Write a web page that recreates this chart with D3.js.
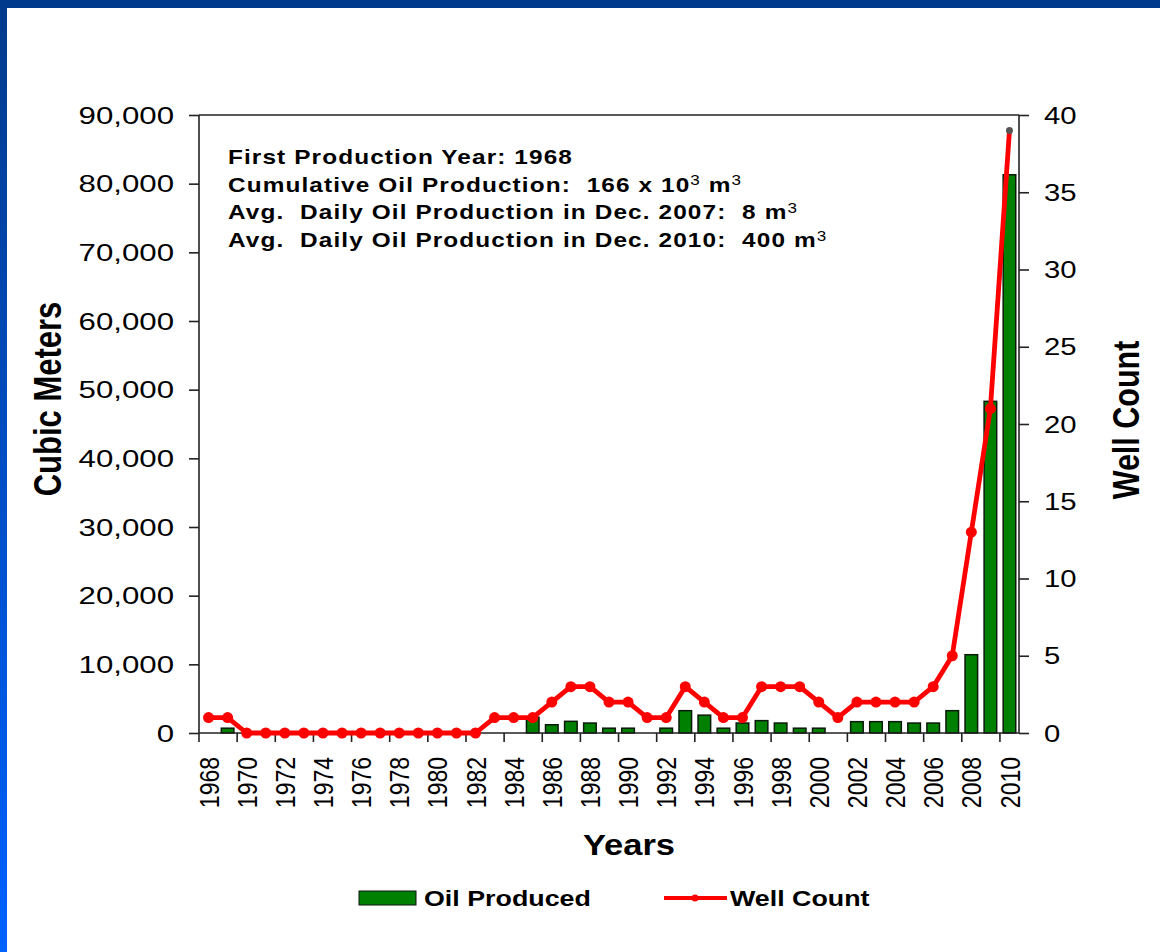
<!DOCTYPE html>
<html>
<head>
<meta charset="utf-8">
<script src="https://cdn.jsdelivr.net/npm/d3@7"></script>
<style>
  html, body { margin: 0; padding: 0; background: #fff; }
  svg { display: block; }
  text { font-family: "Liberation Sans", Arial, sans-serif; fill: #000; }
</style>
</head>
<body>
<svg id="chart" width="1160" height="952"></svg>
<script>
// ---------- data ----------
const years = d3.range(1968, 2011).map(String);
const oilProduced = [
  0, 700, 0, 0, 0, 0, 0, 0, 0, 0,          // 1968-1977
  0, 0, 0, 0, 0, 0, 0, 2300, 1200, 1700,   // 1978-1987
  1450, 700, 700, 0, 700, 3250, 2600, 700, 1450, 1800, // 1988-1997
  1450, 700, 700, 0, 1650, 1650, 1650, 1450, 1450, 3250, // 1998-2007
  11400, 48300, 81300                      // 2008-2010
];
const wellCount = [
  1, 1, 0, 0, 0, 0, 0, 0, 0, 0,            // 1968-1977
  0, 0, 0, 0, 0, 1, 1, 1, 2, 3,            // 1978-1987
  3, 2, 2, 1, 1, 3, 2, 1, 1, 3,            // 1988-1997
  3, 3, 2, 1, 2, 2, 2, 2, 3, 5,            // 1998-2007
  13, 21, 39                               // 2008-2010
];
const leftTicks = [0, 10000, 20000, 30000, 40000, 50000, 60000, 70000, 80000, 90000];
const rightTicks = [0, 5, 10, 15, 20, 25, 30, 35, 40];
const xTickYears = years.filter((d, i) => i % 2 === 0);
const infoLines = [
  [["First Production Year: 1968", false]],
  [["Cumulative Oil Production:  166 x 10", false], ["3", true], [" m", false], ["3", true]],
  [["Avg.  Daily Oil Production in Dec. 2007:  8 m", false], ["3", true]],
  [["Avg.  Daily Oil Production in Dec. 2010:  400 m", false], ["3", true]]
];
const legendItems = ["Oil Produced", "Well Count"];

// ---------- layout ----------
const svg = d3.select("#chart");
const SX = 1.22; // horizontal stretch of glyphs in the reference
const plot = { left: 199, right: 1019, top: 115, bottom: 733 };

// frame
const defs = svg.append("defs");
const grad = defs.append("linearGradient").attr("id", "edge").attr("x1", 0).attr("y1", 0).attr("x2", 0).attr("y2", 1);
grad.append("stop").attr("offset", "0%").attr("stop-color", "#003a8c");
grad.append("stop").attr("offset", "100%").attr("stop-color", "#0062ff");
svg.append("rect").attr("x", 0).attr("y", 0).attr("width", 1160).attr("height", 952).attr("fill", "#fff");
svg.append("rect").attr("x", 0).attr("y", 0).attr("width", 7).attr("height", 952).attr("fill", "url(#edge)");
svg.append("rect").attr("x", 0).attr("y", 0).attr("width", 1160).attr("height", 8).attr("fill", "#003a8c");

// scales
const x = d3.scaleBand().domain(years).range([plot.left, plot.right]).paddingInner(0.34).paddingOuter(0.17);
const xc = d => x(d) + x.bandwidth() / 2;
const yL = d3.scaleLinear().domain([0, 90000]).range([plot.bottom, plot.top]);
const yR = d3.scaleLinear().domain([0, 40]).range([plot.bottom, plot.top]);

// bars
svg.append("g").selectAll("rect").data(years).join("rect")
  .attr("x", d => x(d))
  .attr("width", x.bandwidth())
  .attr("y", (d, i) => yL(oilProduced[i]))
  .attr("height", (d, i) => plot.bottom - yL(oilProduced[i]))
  .attr("fill", "#008000")
  .attr("stroke", "#0a1a0a")
  .attr("stroke-width", 1.5)
  .attr("display", (d, i) => oilProduced[i] > 0 ? null : "none");

// axes lines (box)
const axisG = svg.append("g").attr("stroke", "#222").attr("stroke-width", 1.6).attr("fill", "none");
axisG.append("line").attr("x1", plot.left).attr("x2", plot.right).attr("y1", plot.top).attr("y2", plot.top);
axisG.append("line").attr("x1", plot.left).attr("x2", plot.right).attr("y1", plot.bottom).attr("y2", plot.bottom);
axisG.append("line").attr("x1", plot.left).attr("x2", plot.left).attr("y1", plot.top).attr("y2", plot.bottom);
axisG.append("line").attr("x1", plot.right).attr("x2", plot.right).attr("y1", plot.top).attr("y2", plot.bottom);

// left axis
const gl = svg.append("g").attr("transform", `translate(${plot.left},0)`)
  .call(d3.axisLeft(yL).tickValues(leftTicks).tickSize(10).tickFormat(d3.format(",")));
gl.select(".domain").remove();
gl.selectAll(".tick line").attr("stroke", "#222").attr("stroke-width", 1.6);
gl.selectAll(".tick text")
  .attr("x", null).attr("dy", null)
  .attr("font-size", 24)
  .attr("font-family", "Liberation Sans, Arial, sans-serif")
  .attr("text-anchor", "end")
  .attr("transform", `translate(-25,8) scale(1.3,1)`);

// right axis
const gr = svg.append("g").attr("transform", `translate(${plot.right},0)`)
  .call(d3.axisRight(yR).tickValues(rightTicks).tickSize(10));
gr.select(".domain").remove();
gr.selectAll(".tick line").attr("stroke", "#222").attr("stroke-width", 1.6);
gr.selectAll(".tick text")
  .attr("x", null).attr("dy", null)
  .attr("font-size", 24)
  .attr("font-family", "Liberation Sans, Arial, sans-serif")
  .attr("text-anchor", "start")
  .attr("transform", `translate(25,8) scale(${SX},1)`);

// bottom axis ticks at left edge of even-year bands
const edge = d => (d === years[0]) ? plot.left : x(d) - x.step() * x.paddingInner() / 2;
const gb = svg.append("g");
gb.selectAll("line").data(xTickYears).join("line")
  .attr("x1", edge).attr("x2", edge)
  .attr("y1", plot.bottom).attr("y2", plot.bottom + 9)
  .attr("stroke", "#222").attr("stroke-width", 1.6);
gb.selectAll("text").data(xTickYears).join("text")
  .attr("transform", d => `translate(${xc(d)},757) scale(${SX},1) rotate(-90)`)
  .attr("text-anchor", "end")
  .attr("dy", "0.36em")
  .attr("font-size", 23)
  .text(d => d);

// well count line
const line = d3.line().x((d, i) => xc(years[i])).y(d => yR(d));
svg.append("path").datum(wellCount)
  .attr("d", line)
  .attr("fill", "none")
  .attr("stroke", "#ff0000")
  .attr("stroke-width", 4.8)
  .attr("stroke-linejoin", "round");
svg.append("g").selectAll("circle").data(wellCount).join("circle")
  .attr("cx", (d, i) => xc(years[i]))
  .attr("cy", d => yR(d))
  .attr("r", (d, i) => i === wellCount.length - 1 ? 3.5 : 5.5)
  .attr("fill", (d, i) => i === wellCount.length - 1 ? "#555" : "#ff0000");

// info text
const info = svg.append("g");
infoLines.forEach((parts, li) => {
  const t = info.append("text")
    .attr("transform", `translate(228,${164 + li * 27.7}) scale(${SX},1)`)
    .attr("font-size", 20)
    .attr("font-weight", "bold")
    .attr("letter-spacing", 0.9)
    .style("white-space", "pre");
  parts.forEach(([s, sup]) => {
    const ts = t.append("tspan").text(s);
    if (sup) ts.attr("font-size", 14).attr("font-weight", "normal").attr("baseline-shift", "45%");
  });
});

// axis titles
svg.append("text")
  .attr("transform", `translate(61,399) scale(1.25,1) rotate(-90)`)
  .attr("text-anchor", "middle")
  .attr("font-size", 31).attr("font-weight", "bold")
  .text("Cubic Meters");
svg.append("text")
  .attr("transform", `translate(1139,420) scale(1.22,1) rotate(-90)`)
  .attr("text-anchor", "middle")
  .attr("font-size", 30.5).attr("font-weight", "bold")
  .text("Well Count");
svg.append("text")
  .attr("transform", `translate(629,855) scale(1.15,1)`)
  .attr("text-anchor", "middle")
  .attr("font-size", 30).attr("font-weight", "bold")
  .text("Years");

// legend
const lg = svg.append("g");
lg.append("rect").attr("x", 359).attr("y", 891).attr("width", 57).attr("height", 14)
  .attr("fill", "#008000").attr("stroke", "#111").attr("stroke-width", 1);
lg.append("text").attr("transform", `translate(424,906) scale(${SX},1)`)
  .attr("font-size", 22).attr("font-weight", "bold").text(legendItems[0]);
lg.append("line").attr("x1", 664).attr("x2", 727).attr("y1", 898).attr("y2", 898)
  .attr("stroke", "#ff0000").attr("stroke-width", 4);
lg.append("circle").attr("cx", 695).attr("cy", 898).attr("r", 3.5).attr("fill", "#ff0000");
lg.append("text").attr("transform", `translate(730,906) scale(${SX},1)`)
  .attr("font-size", 22).attr("font-weight", "bold").text(legendItems[1]);
</script>
</body>
</html>
